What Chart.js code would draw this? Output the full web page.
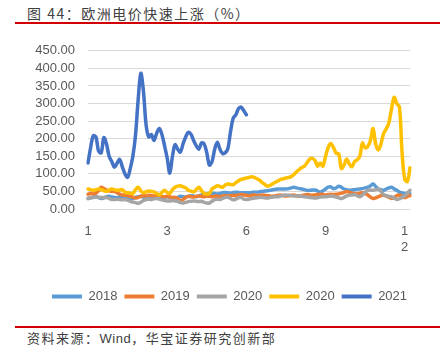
<!DOCTYPE html>
<html>
<head>
<meta charset="utf-8">
<script src="https://cdn.jsdelivr.net/npm/chart.js@4"></script>
<style>
  body { margin: 0; width: 444px; height: 358px; background: #fff; position: relative; overflow: hidden; }
  .title { position: absolute; left: 27px; top: 3px; font: 14px "Noto Sans CJK SC", sans-serif; letter-spacing: 1.5px; color: #404040; }
  .rule { position: absolute; left: 15px; width: 425px; height: 2px; background: #d40000; }
  .source { position: absolute; left: 27px; top: 328px; font: 13px "Noto Sans CJK SC", sans-serif; letter-spacing: 1.5px; color: #404040; }
  .source b { font: 13px "Liberation Sans", Arial, sans-serif; font-weight: normal; letter-spacing: 0.5px; }
  #wrap { position: absolute; left: 0; top: 30px; width: 444px; height: 290px; }
</style>
</head>
<body>
<div class="title">图 44：欧洲电价快速上涨（%）</div>
<div class="rule" style="top:22px"></div>
<div id="wrap"><canvas id="chart" width="444" height="290"></canvas></div>
<div class="rule" style="top:326px"></div>
<div class="source">资料来源：<b>Wind</b>，华宝证券研究创新部</div>

<script>
// tick labels sit every 30 points on the category axis
const tickLabels = ['1', '3', '6', '9', ['1', '2']];
const tickEvery = 30;
const pointCount = 123;
const categories = [];
for (let i = 0; i < pointCount; i++) {
  categories.push(i % tickEvery === 0 ? tickLabels[i / tickEvery] : '');
}

const s2018 = [30,32,33,35,33,30,32,35,36,34, 33,32,35,34,32,30,28,30,33,35,
  36,34,32,30,33,35,32,30,32,34, 35,33,30,31,33,36,35,34,36,38,
  37,35,37,40,42,43,44,45,44,43, 44,46,47,46,45,47,48,47,46,46,
  46,46,47,48,48,49,50,51,52,53, 55,56,57,57,57,57,58,60,62,60,
  58,57,55,53,53,54,54,51,48,52, 57,62,63,58,60,65,62,57,55,53,
  54,55,56,57,58,60,62,66,71,64, 57,55,53,57,60,62,57,53,48,46,
  44,44,44];

const s2019 = [42,44,43,45,52,62,58,54,52,50, 50,46,42,40,39,38,36,34,31,33,
  36,38,37,39,38,37,38,39,36,35, 36,34,33,33,30,25,27,33,36,35,
  34,36,37,36,35,37,36,35,37,36, 35,37,38,37,38,39,38,40,41,40,
  39,38,39,40,38,39,40,39,38,37, 36,38,39,40,38,37,38,39,40,38,
  37,38,40,41,40,39,40,41,42,41, 40,41,42,41,42,43,45,47,50,48,
  45,44,43,45,46,44,40,34,30,32, 35,38,39,37,34,30,33,38,40,36,
  32,36,38];

const s2020 = [30,32,33,34,33,33,32,33,30,27, 27,28,27,26,27,25,22,20,18,16,
  19,24,27,28,27,29,30,28,26,24, 23,23,24,23,22,18,17,19,21,22,
  23,22,21,22,19,17,17,22,27,28, 27,30,33,33,30,26,28,32,33,
  28,27,28,30,31,32,33,33,32,31, 33,34,35,35,37,39,40,39,38,37,
  37,37,36,35,34,33,32,31,32,34, 35,35,36,37,36,34,32,30,33,37,
  39,40,41,38,35,40,47,53,54,53, 55,57,50,41,38,36,35,31,27,29,
  33,37,45,53];

const s2020b = [57,55,53,55,57,55,52,50,54,57, 55,53,54,55,48,46,45,44,55,62,
  52,46,49,51,50,49,44,40,47,53, 47,44,55,62,65,66,63,60,53,51,
  49,55,62,52,44,43,44,57,62,66, 64,62,68,71,70,69,75,80,84,86,
  88,90,92,90,86,82,75,70,65,67, 72,76,80,84,86,88,90,92,98,106,
  112,118,122,132,142,144,138,122,131,122, 150,175,186,175,159,157,115,125,142,128,
  120,135,140,150,188,174,178,195,229,185, 168,185,215,228,245,285,318,300,290,160,
  85,78,117];

const s2021 = [131,175,208,205,165,160,203,185,150,135, 119,130,141,120,100,90,115,150,210,310,
  386,335,240,205,212,195,215,229,212,180, 145,102,150,183,170,162,185,205,218,213,
  195,180,170,188,185,160,125,135,170,190, 170,158,160,172,220,258,268,285,290,280,
  268];

const yTicks = [0, 50, 100, 150, 200, 250, 300, 350, 400, 450];

function line(label, data, color) {
  return {
    label: label,
    data: data,
    borderColor: color,
    backgroundColor: color,
    borderWidth: 3.5,
    pointRadius: 0,
    tension: 0.35,
    borderCapStyle: 'round',
    borderJoinStyle: 'round'
  };
}

const font = { family: '"Liberation Sans", Arial, sans-serif', size: 13 };

new Chart(document.getElementById('chart'), {
  type: 'line',
  data: {
    labels: categories,
    // listed last-to-first so the later years are painted on top
    datasets: [
      line('2021', s2021, '#4472C4'),
      line('2020', s2020b, '#FFC000'),
      line('2020', s2020, '#A5A5A5'),
      line('2019', s2019, '#ED7D31'),
      line('2018', s2018, '#5B9BD5')
    ]
  },
  options: {
    responsive: false,
    animation: false,
    devicePixelRatio: 1,
    layout: { padding: { left: 15, right: 0, top: 14, bottom: 7 } },
    plugins: {
      tooltip: { enabled: false },
      legend: {
        position: 'bottom',
        reverse: true,
        labels: {
          boxWidth: 30,
          boxHeight: 4,
          padding: 7,
          color: '#595959',
          font: font,
          generateLabels: chart => Chart.defaults.plugins.legend.labels.generateLabels(chart)
            .map(item => ({ ...item, lineWidth: 0 }))
        }
      }
    },
    scales: {
      x: {
        grid: { display: false },
        border: { display: false },
        afterFit: s => { s.height = 74; },
        ticks: {
          autoSkip: false,
          maxRotation: 0,
          padding: 7,
          color: '#595959',
          font: font,
          callback: (v, i) => categories[i]
        }
      },
      y: {
        min: yTicks[0],
        max: yTicks[yTicks.length - 1],
        afterFit: s => { s.width = 73; },
        afterBuildTicks: s => { s.ticks = yTicks.map(v => ({ value: v })); },
        grid: { color: '#D9D9D9', lineWidth: 1, drawTicks: false },
        border: { display: false },
        ticks: {
          autoSkip: false,
          padding: 13,
          color: '#595959',
          font: font,
          callback: v => v.toFixed(2)
        }
      },
      // empty right-hand axis only reserves the margin beside the plot
      yRight: {
        position: 'right',
        afterFit: s => { s.width = 34; },
        grid: { display: false },
        border: { display: false },
        ticks: { display: false }
      }
    }
  }
});
</script>
</body>
</html>
